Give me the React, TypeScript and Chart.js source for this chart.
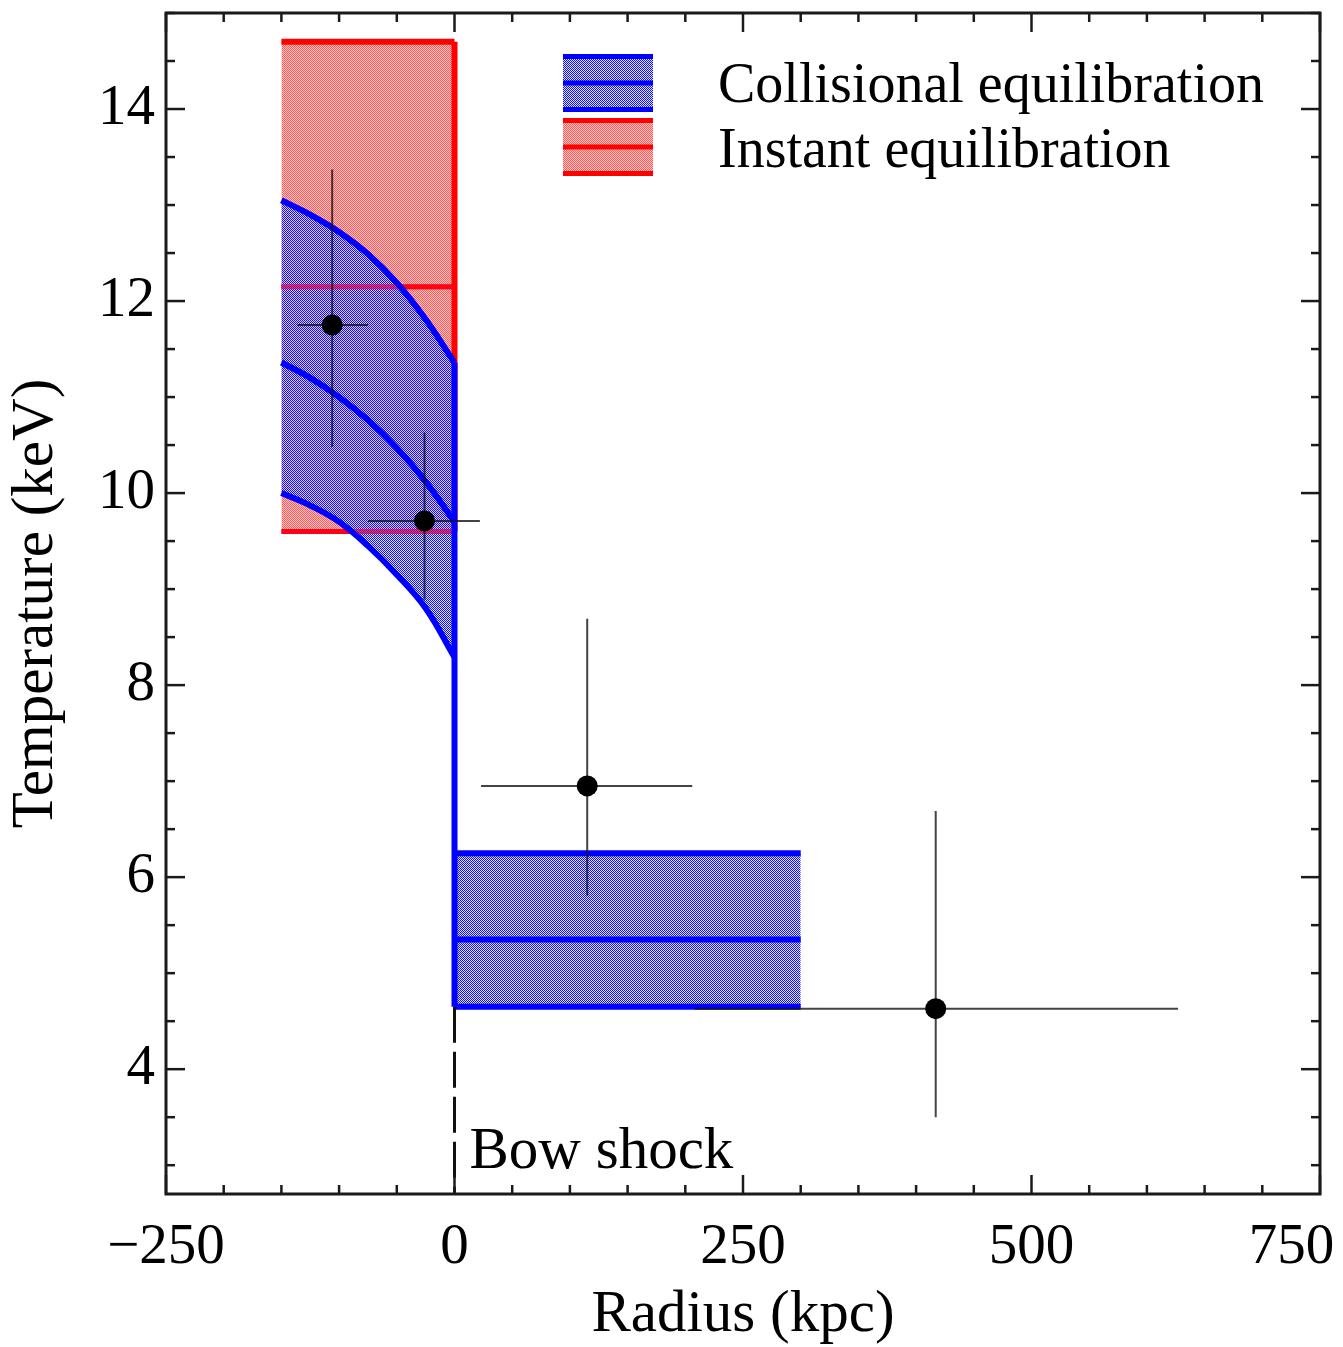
import React, { useEffect, useRef } from 'react';
import { Chart, registerables } from 'chart.js';
Chart.register(...registerables);

// ---- axes ----
const xTickValues = [-250, 0, 250, 500, 750];
const yTickValues = [4, 6, 8, 10, 12, 14];
const xRange = [-250, 750];
const yRange = [2.7, 15];
const xMinorStep = 50;
const yMinorStep = 0.5;

// ---- observed temperatures (kpc, keV) ----
const obsRadius = [-106, -26, 115, 417];
const obsTemp = [11.75, 9.71, 6.95, 4.63];
const obsRadiusLo = [-136, -75, 23, 208];
const obsRadiusHi = [-75, 22, 206, 627];
const obsTempLo = [10.48, 8.89, 5.81, 3.5];
const obsTempHi = [13.37, 10.63, 8.69, 6.69];

// ---- instant equilibration model (red) ----
const instantRadius = [-150, 0];
const instantTop = 14.7;
const instantMid = 12.15;
const instantBottom = 9.6;

// ---- collisional equilibration model (blue) ----
const collRadius = [-150, -125, -100, -75, -50, -25, 0];
const collUpper = [13.05, 12.9, 12.72, 12.49, 12.19, 11.81, 11.36];
const collMid = [11.36, 11.2, 11.0, 10.76, 10.47, 10.12, 9.7];
const collLower = [10.0, 9.87, 9.7, 9.45, 9.15, 8.8, 8.29];

// ---- pre-shock gas (blue box) ----
const postRadius = [0, 300];
const postTop = 6.25;
const postMid = 5.35;
const postBottom = 4.65;

const shockRadius = 0;

const legendLabels = ['Collisional equilibration', 'Instant equilibration'];
const FONT = '"Liberation Serif", "Times New Roman", serif';

const pts = (xs: number[], ys: number[]) => xs.map((x, i) => ({ x, y: ys[i] }));
const hline = (xs: number[], y: number) => xs.map((x) => ({ x, y }));

function makePattern(a: string, b: string, phase: number) {
  const c = document.createElement('canvas');
  c.width = 2;
  c.height = 2;
  const g = c.getContext('2d')!;
  for (let i = 0; i < 2; i++) {
    for (let j = 0; j < 2; j++) {
      g.fillStyle = (i + j + phase) % 2 === 0 ? a : b;
      g.fillRect(i, j, 1, 1);
    }
  }
  return g.createPattern(c, 'repeat')!;
}

export default function App() {
  const ref = useRef<HTMLCanvasElement | null>(null);

  useEffect(() => {
    const canvas = ref.current!;
    const redPat = makePattern('#ff5a5a', '#ffc4c4', 0);
    const bluePat = makePattern('#1010ff', 'rgba(205,205,255,0.6)', 0);

    const base = { pointRadius: 0, pointHoverRadius: 0, showLine: true };
    const fillDs = (data: any, order: number, bg: any, fill: any, curve = false) => ({
      ...base,
      data,
      order,
      borderWidth: 0,
      borderColor: 'rgba(0,0,0,0)',
      backgroundColor: bg,
      fill,
      tension: curve ? 0.4 : 0,
    });
    const lineDs = (data: any, order: number, color: string, width: number, curve = false, dash: number[] = []) => ({
      ...base,
      data,
      order,
      borderWidth: width,
      borderColor: color,
      borderDash: dash,
      fill: false,
      tension: curve ? 0.4 : 0,
    });

    const RED = '#ff0000';
    const RED_OVER = 'rgba(255,0,40,0.5)';
    const BLUE = '#0000ff';
    const ERR = 'rgba(20,20,20,0.8)';

    const datasets: any[] = [
      fillDs(hline(instantRadius, instantTop), 20, redPat, '+1'),
      fillDs(hline(instantRadius, instantBottom), 20, redPat, false),
      fillDs(pts(collRadius, collUpper), 15, bluePat, '+1', true),
      fillDs(pts(collRadius, collLower), 15, bluePat, false, true),
      fillDs(hline(postRadius, postTop), 15, bluePat, '+1'),
      fillDs(hline(postRadius, postBottom), 15, bluePat, false),
      lineDs(hline(instantRadius, instantTop), 18, RED, 6),
      lineDs([{ x: shockRadius, y: instantTop }, { x: shockRadius, y: instantBottom }], 18, RED, 6),
      lineDs(hline(instantRadius, instantMid), 18, RED, 5),
      lineDs(hline(instantRadius, instantBottom), 18, RED, 5),
      lineDs(hline(instantRadius, instantMid), 12, RED_OVER, 5),
      lineDs(hline(instantRadius, instantBottom), 12, RED_OVER, 5),
      lineDs(pts(collRadius, collUpper), 10, BLUE, 6, true),
      lineDs(pts(collRadius, collMid), 10, BLUE, 6, true),
      lineDs(pts(collRadius, collLower), 10, BLUE, 6, true),
      lineDs([{ x: shockRadius, y: collUpper[collUpper.length - 1] }, { x: shockRadius, y: postBottom }], 10, BLUE, 6),
      lineDs(hline(postRadius, postTop), 10, BLUE, 6),
      lineDs(hline(postRadius, postMid), 10, BLUE, 6),
      lineDs(hline(postRadius, postBottom), 10, BLUE, 6),
      lineDs([{ x: shockRadius, y: postBottom }, { x: shockRadius, y: yRange[0] }], 9, '#111', 3, false, [36, 9]),
    ];
    obsRadius.forEach((r, i) => {
      datasets.push(lineDs([{ x: obsRadiusLo[i], y: obsTemp[i] }, { x: obsRadiusHi[i], y: obsTemp[i] }], 5, ERR, 2));
      datasets.push(lineDs([{ x: r, y: obsTempLo[i] }, { x: r, y: obsTempHi[i] }], 5, ERR, 2));
    });
    datasets.push({
      data: pts(obsRadius, obsTemp),
      order: 1,
      showLine: false,
      pointRadius: 10.5,
      pointHoverRadius: 10.5,
      pointBackgroundColor: '#000',
      pointBorderColor: '#000',
      pointBorderWidth: 0,
    });

    const frame = {
      id: 'frameTicks',
      afterDatasetsDraw(chart: any) {
        const { ctx, chartArea: a, scales } = chart;
        const x = scales.x;
        const y = scales.y;
        ctx.save();
        ctx.strokeStyle = '#1a1a1a';
        ctx.lineWidth = 2.5;
        const seg = (x1: number, y1: number, x2: number, y2: number) => {
          ctx.beginPath();
          ctx.moveTo(x1, y1);
          ctx.lineTo(x2, y2);
          ctx.stroke();
        };
        const xs = Math.ceil(x.min / xMinorStep);
        const xe = Math.floor(x.max / xMinorStep);
        for (let k = xs; k <= xe; k++) {
          const v = k * xMinorStep;
          const px = x.getPixelForValue(v);
          const major = xTickValues.includes(v);
          const len = major ? 19 : 9;
          seg(px, a.bottom, px, a.bottom - len);
          seg(px, a.top, px, a.top + len);
        }
        const ys = Math.ceil(y.min / yMinorStep - 1e-9);
        const ye = Math.floor(y.max / yMinorStep + 1e-9);
        for (let k = ys; k <= ye; k++) {
          const v = k * yMinorStep;
          const py = y.getPixelForValue(v);
          const major = yTickValues.some((t) => Math.abs(t - v) < 1e-9);
          const len = major ? 19 : 9;
          seg(a.left, py, a.left + len, py);
          seg(a.right, py, a.right - len, py);
        }
        ctx.lineWidth = 3;
        ctx.strokeRect(a.left, a.top, a.right - a.left, a.bottom - a.top);
        ctx.restore();
      },
      afterDraw(chart: any) {
        const { ctx, chartArea: a, scales } = chart;
        ctx.save();
        // Bow shock label
        ctx.font = `59px ${FONT}`;
        ctx.fillStyle = '#000';
        ctx.textAlign = 'left';
        ctx.textBaseline = 'alphabetic';
        ctx.fillText('Bow shock', scales.x.getPixelForValue(shockRadius) + 15, a.bottom - 26);
        // legend
        const bx = a.left + 397;
        const bw = 90;
        const boxes = [
          { top: a.top + 41, pat: bluePat, col: BLUE },
          { top: a.top + 105, pat: redPat, col: RED },
        ];
        boxes.forEach((b, i) => {
          const h = 58;
          ctx.fillStyle = '#fff';
          ctx.fillRect(bx, b.top, bw, h);
          ctx.fillStyle = b.pat;
          ctx.fillRect(bx, b.top, bw, h);
          ctx.strokeStyle = b.col;
          ctx.lineWidth = 5;
          [b.top + 2.5, b.top + h / 2, b.top + h - 2.5].forEach((yy) => {
            ctx.beginPath();
            ctx.moveTo(bx, yy);
            ctx.lineTo(bx + bw, yy);
            ctx.stroke();
          });
          ctx.fillStyle = '#000';
          ctx.font = `56px ${FONT}`;
          ctx.fillText(legendLabels[i], a.left + 552, a.top + 89 + i * 65);
        });
        ctx.restore();
      },
    };

    const chart = new Chart(canvas, {
      type: 'line',
      data: { datasets },
      options: {
        animation: false,
        responsive: false,
        devicePixelRatio: 1,
        events: [],
        layout: { padding: { top: 13, right: 23, left: 0, bottom: 0 } },
        plugins: { legend: { display: false }, tooltip: { enabled: false } },
        scales: {
          x: {
            type: 'linear',
            min: xRange[0],
            max: xRange[1],
            afterBuildTicks: (s: any) => {
              s.ticks = xTickValues.map((v) => ({ value: v }));
            },
            afterFit: (s: any) => {
              s.height = 153;
              s.paddingLeft = 0;
              s.paddingRight = 0;
            },
            ticks: {
              autoSkip: false,
              maxRotation: 0,
              padding: 12,
              color: '#000',
              font: { family: FONT, size: 57 },
              callback: (v: any, i: number, arr: any[]) => {
                const n = Number(v);
                const s = n < 0 ? '\u2212' + Math.abs(n) : String(n);
                return i === arr.length - 1 ? s + '\u2007\u2007' : s;
              },
            },
            grid: { display: false },
            border: { display: false },
            title: {
              display: true,
              text: 'Radius (kpc)',
              color: '#000',
              font: { family: FONT, size: 59, lineHeight: 1 },
              padding: { top: 0, bottom: 2 },
            },
          },
          y: {
            type: 'linear',
            min: yRange[0],
            max: yRange[1],
            afterBuildTicks: (s: any) => {
              s.ticks = yTickValues.map((v) => ({ value: v }));
            },
            afterFit: (s: any) => {
              s.width = 166;
              s.paddingTop = 0;
              s.paddingBottom = 0;
            },
            ticks: {
              padding: 3,
              color: '#000',
              font: { family: FONT, size: 57 },
              callback: (v: any) => String(v),
            },
            grid: { display: false },
            border: { display: false },
            title: {
              display: true,
              text: 'Temperature (keV)',
              color: '#000',
              font: { family: FONT, size: 59, lineHeight: 1 },
              padding: { top: 7, bottom: 0 },
            },
          },
        },
      },
      plugins: [frame],
    } as any);
    return () => chart.destroy();
  }, []);

  return (
    <div style={{ position: 'absolute', left: 0, top: 0, width: 1343, height: 1347, background: '#fff' }}>
      <canvas ref={ref} width={1343} height={1347} />
    </div>
  );
}
